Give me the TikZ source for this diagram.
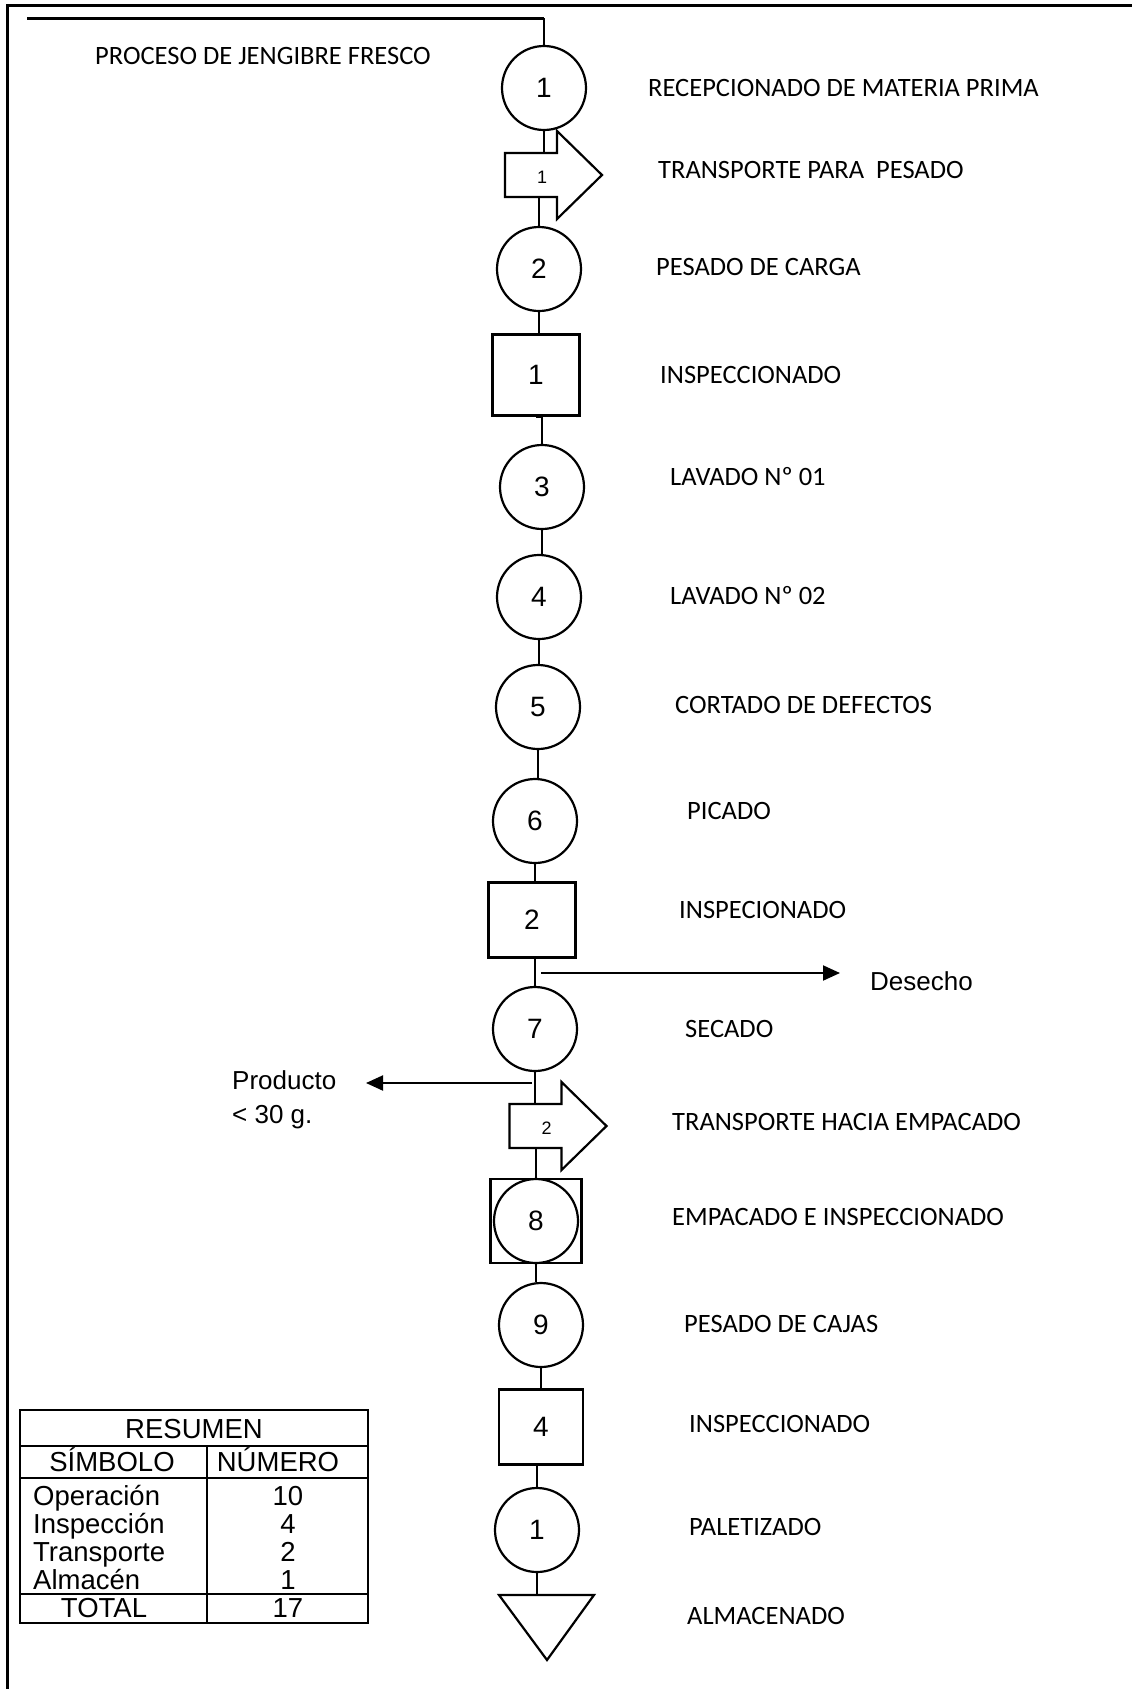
\documentclass[tikz,border=0pt]{standalone}
\usepackage{fontspec}
\setmainfont{Carlito}
\newfontfamily\dgArial{Liberation Sans}
\usetikzlibrary{arrows.meta}
\newcommand{\dgLbl}{\fontsize{26.5}{30}\selectfont}
\newcommand{\dgNum}{\dgArial\fontsize{28}{32}\selectfont}
\newcommand{\dgSmall}{\dgArial\fontsize{18}{20}\selectfont}
\newcommand{\dgTab}{\dgArial\fontsize{27.5}{32}\selectfont}
\newcommand{\dgTransport}[4]{%
  \begin{scope}[shift={(#2,#3)}]
    \draw[shp] (-26,-22) -- (26,-22) -- (26,-44) -- (71,0) -- (26,44) -- (26,22) -- (-26,22) -- cycle;
    \node[minimum width=52pt, minimum height=44pt, inner sep=0pt] (#1) at (0,0) {};
    \node[font=\dgSmall, inner sep=0pt] (#1n) at (11,2) {#4};
  \end{scope}}
\tikzset{
  shp/.style={line width=2.2pt, line join=miter},
  op/.style={circle, draw, line width=2.2pt, minimum size=84pt, inner sep=0pt, font=\dgNum},
  insp/.style={rectangle, draw, line width=2.2pt, minimum width=87pt, minimum height=81pt, inner sep=0pt, font=\dgNum},
  lbl/.style={anchor=west, inner sep=0pt, font=\dgLbl},
  conn/.style={line width=2pt},
  tabtxt/.style={inner sep=0pt, font=\dgTab, anchor=base},
  tabl/.style={inner sep=0pt, font=\dgTab, anchor=base west},
  side/.style={line width=2pt, -{Triangle[length=17pt, width=15pt]}}
}
\begin{document}
\begin{tikzpicture}[x=1pt, y=-1pt]
\useasboundingbox (0,0) rectangle (1132,1689);
% frame
\draw[line width=3pt] (7,1689) -- (7,5) -- (1132,5);

% shapes
\node[op] (c1) at (544,88) {1};
\dgTransport{t1}{531}{175}{1}
\node[op] (c2) at (539,269) {2};
\node[insp] (s1) at (536,375) {1};
\node[op] (c3) at (542,487) {3};
\node[op] (c4) at (539,597) {4};
\node[op] (c5) at (538,707) {5};
\node[op] (c6) at (535,821) {6};
\node[insp, minimum height=75pt] (s2) at (532,920) {2};
\node[op] (c7) at (535,1029) {7};
\dgTransport{t2}{535.5}{1126}{2}
\node[insp, minimum width=91pt, minimum height=84pt] (s3) at (536,1221) {};
\node[op] (c8) at (536,1221) {8};
\node[op] (c9) at (541,1325) {9};
\node[insp, minimum width=84pt, minimum height=75pt] (s4) at (541,1427) {4};
\node[op] (c10) at (537,1530) {1};
\draw[shp] (499,1595) -- (594,1595) -- (547,1660) -- cycle;
\coordinate (tri) at (546,1595);

% start line
\coordinate (st) at (27,18);
\draw[line width=3pt] (st) -- (st -| c1.north);
\draw[conn] (st -| c1.north) -- (c1.north);

% connectors
\draw[conn] (c1.south) -- (c1.south |- t1.north);
\draw[conn] (t1.south -| c2.north) -- (c2.north);
\draw[conn] (c2.south) -- (c2.south |- s1.north);
\draw[conn] (s1.south) -- (s1.south -| c3.north) -- (c3.north);
\draw[conn] (c3.south) -- (c3.south |- c4.north);
\draw[conn] (c4.south) -- (c4.south |- c5.north);
\draw[conn] (c5.south) -- (c5.south |- c6.north);
\draw[conn] (c6.south) -- (c6.south |- s2.north);
\draw[conn] (s2.south -| c7.north) -- (c7.north);
\draw[conn] (c7.south) -- (c7.south |- t2.north);
\draw[conn] (t2.south -| c8.north) -- (c8.north);
\draw[conn] (c8.south) -- (c8.south |- c9.north);
\draw[conn] (c9.south) -- (c9.south |- s4.north);
\draw[conn] (s4.south -| c10.north) -- (c10.north);
\draw[conn] (c10.south) -- (c10.south |- tri);

% side outputs
\coordinate (d0) at (541,973);
\coordinate (d1) at (840,973);
\draw[side] (d0) -- (d1);
\node[anchor=west, inner sep=0pt, font=\dgArial\fontsize{26}{30}\selectfont] (des) at (870,981) {Desecho};
\coordinate (p0) at (532,1083);
\coordinate (p1) at (366,1083);
\draw[side] (p0) -- (p1);
\node[anchor=north west, inner sep=0pt, font=\dgArial\fontsize{26}{34}\selectfont, align=left] (prod) at (232,1070) {Producto\\< 30 g.};

% labels
\node[lbl] (l0) at (95,56) {PROCESO DE JENGIBRE FRESCO};
\node[lbl] (l1) at (648,88) {RECEPCIONADO DE MATERIA PRIMA};
\node[lbl] (l2) at (658,170) {TRANSPORTE PARA\ \ PESADO};
\node[lbl] (l3) at (656,267) {PESADO DE CARGA};
\node[lbl] (l4) at (660,375) {INSPECCIONADO};
\node[lbl] (l5) at (670,477) {LAVADO Nº 01};
\node[lbl] (l6) at (670,596) {LAVADO Nº 02};
\node[lbl] (l7) at (675,705) {CORTADO DE DEFECTOS};
\node[lbl] (l8) at (687,811) {PICADO};
\node[lbl] (l9) at (679,910) {INSPECIONADO};
\node[lbl] (l10) at (685,1029) {SECADO};
\node[lbl] (l11) at (672,1122) {TRANSPORTE HACIA EMPACADO};
\node[lbl] (l12) at (672,1217) {EMPACADO E INSPECCIONADO};
\node[lbl] (l13) at (684,1324) {PESADO DE CAJAS};
\node[lbl] (l14) at (689,1424) {INSPECCIONADO};
\node[lbl] (l15) at (689,1527) {PALETIZADO};
\node[lbl] (l16) at (687,1616) {ALMACENADO};

% summary table
\draw[line width=2.2pt] (20,1410) rectangle (368,1623);
\draw[line width=2pt] (20,1446) -- (368,1446);
\draw[line width=2pt] (20,1478) -- (368,1478);
\draw[line width=2pt] (20,1594) -- (368,1594);
\draw[line width=2pt] (207,1446) -- (207,1623);
\node[tabtxt] (r0) at (194,1438) {RESUMEN};
\node[tabtxt] (h1) at (112,1471) {SÍMBOLO};
\node[tabtxt] (h2) at (278,1471) {NÚMERO};
\node[tabl] (a1) at (33,1505) {Operación};
\node[tabl] (a2) at (33,1533) {Inspección};
\node[tabl] (a3) at (33,1561) {Transporte};
\node[tabl] (a4) at (33,1589) {Almacén};
\node[tabtxt] (b1) at (288,1505) {10};
\node[tabtxt] (b2) at (288,1533) {4};
\node[tabtxt] (b3) at (288,1561) {2};
\node[tabtxt] (b4) at (288,1589) {1};
\node[tabtxt] (tt) at (104,1617) {TOTAL};
\node[tabtxt] (tn) at (288,1617) {17};
\end{tikzpicture}
\end{document}
